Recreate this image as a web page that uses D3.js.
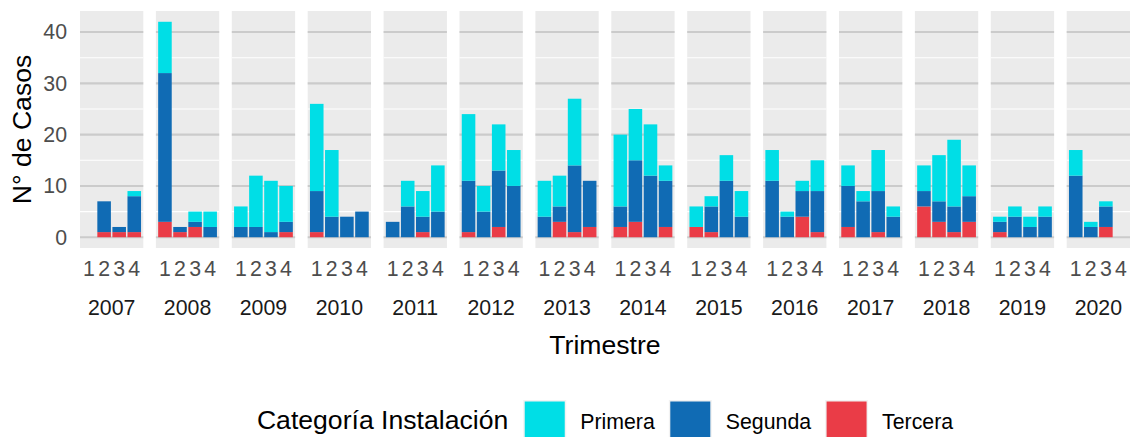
<!DOCTYPE html>
<html>
<head>
<meta charset="utf-8">
<script src="https://cdn.jsdelivr.net/npm/d3@7"></script>
<style>
  html, body { margin: 0; padding: 0; background: #ffffff; }
  svg { display: block; font-family: "Liberation Sans", Arial, Helvetica, sans-serif; }
</style>
</head>
<body>
<svg id="chart" width="1130" height="437"></svg>
<script>
// ---------------- DATA ----------------
const years = ["2007","2008","2009","2010","2011","2012","2013","2014","2015","2016","2017","2018","2019","2020"];
const quarters = ["1","2","3","4"];
const categories = ["Primera","Segunda","Tercera"];

// values per year, per quarter (Q1..Q4)
const primera = [
  [0,0,0,1],[10,0,2,3],[4,10,10,7],[17,13,0,0],[0,5,5,9],[13,5,9,7],[7,6,13,0],
  [14,10,10,3],[4,2,5,5],[6,1,2,6],[4,2,8,2],[5,9,13,6],[1,2,2,2],[5,1,1,0]
];
const segunda = [
  [0,6,1,7],[29,1,1,2],[2,2,1,2],[8,4,4,5],[3,6,3,5],[10,5,11,10],[4,3,13,9],
  [4,12,12,9],[0,5,11,4],[11,4,5,8],[8,7,8,4],[3,4,5,5],[2,4,2,4],[12,2,4,0]
];
const tercera = [
  [0,1,1,1],[3,1,2,0],[0,0,0,1],[1,0,0,0],[0,0,1,0],[1,0,2,0],[0,3,1,2],
  [2,3,0,2],[2,1,0,0],[0,0,4,1],[2,0,1,0],[6,3,1,3],[1,0,0,0],[0,0,2,0]
];
const yTicks = [0,10,20,30,40];
const yMinor = [5,15,25,35];

const colors = {"Primera":"#00DEE6","Segunda":"#106BB4","Tercera":"#EA3C47"};

// ---------------- LAYOUT ----------------
const svg = d3.select("#chart");
const panelTop = 11, panelBottom = 248;
const plotLeft = 80, plotRight = 1130;

const xYear = d3.scaleBand().domain(years).range([plotLeft, plotRight]).paddingInner(0.166).paddingOuter(0);
const xQ = d3.scaleBand().domain(quarters).range([0, xYear.bandwidth()]).paddingInner(0.1).paddingOuter(0.15);
const y = d3.scaleLinear().domain([-2.1, 44.1]).range([panelBottom, panelTop]);

// build table
const rows = [];
years.forEach((yr, i) => {
  quarters.forEach((q, j) => {
    rows.push({year: yr, q: q, Tercera: tercera[i][j], Segunda: segunda[i][j], Primera: primera[i][j]});
  });
});
const stack = d3.stack().keys(["Tercera","Segunda","Primera"]);
const series = stack(rows);

// panels
const panels = svg.append("g").selectAll("g.panel").data(years).join("g")
  .attr("class","panel")
  .attr("transform", d => `translate(${xYear(d)},0)`);

panels.append("rect")
  .attr("x",0).attr("y",panelTop)
  .attr("width", xYear.bandwidth()).attr("height", panelBottom - panelTop)
  .attr("fill","#EBEBEB");

panels.each(function() {
  const g = d3.select(this);
  g.selectAll("line.minor").data(yMinor).join("line")
    .attr("x1",0).attr("x2",xYear.bandwidth())
    .attr("y1", d => y(d)).attr("y2", d => y(d))
    .attr("stroke","#FFFFFF").attr("stroke-width",1.1);
  g.selectAll("line.major").data(yTicks).join("line")
    .attr("x1",0).attr("x2",xYear.bandwidth())
    .attr("y1", d => y(d)).attr("y2", d => y(d))
    .attr("stroke","#CBCBCB").attr("stroke-width",2.1);
});

// bars
const barG = svg.append("g");
series.forEach(s => {
  barG.append("g").attr("fill", colors[s.key])
    .selectAll("rect").data(s.filter(d => d[1] > d[0])).join("rect")
    .attr("x", d => xYear(d.data.year) + xQ(d.data.q))
    .attr("width", xQ.bandwidth())
    .attr("y", d => y(d[1]))
    .attr("height", d => y(d[0]) - y(d[1]));
});

// y axis labels
svg.append("g").selectAll("text").data(yTicks).join("text")
  .attr("x", 67).attr("y", d => y(d)).attr("dy","0.35em")
  .attr("text-anchor","end").attr("fill","#4D4D4D")
  .style("font-size","21.3px").text(d => d);

// x tick labels
panels.selectAll("text.q").data(quarters).join("text")
  .attr("class","q")
  .attr("x", d => xQ(d) + xQ.bandwidth()/2).attr("y", 276)
  .attr("text-anchor","middle").attr("fill","#4D4D4D")
  .style("font-size","21.3px").text(d => d);

// strip labels (years)
panels.append("text")
  .attr("x", xYear.bandwidth()/2).attr("y", 315)
  .attr("text-anchor","middle").attr("fill","#1A1A1A")
  .style("font-size","21.3px").text(d => d);

// axis titles
svg.append("text")
  .attr("x", (plotLeft + plotRight)/2).attr("y", 354)
  .attr("text-anchor","middle").attr("fill","#000000")
  .style("font-size","26.6px").text("Trimestre");

svg.append("text")
  .attr("transform", `translate(31,${(panelTop+panelBottom)/2}) rotate(-90)`)
  .attr("text-anchor","middle").attr("fill","#000000")
  .style("font-size","26.6px").text("N° de Casos");

// legend
const lg = svg.append("g");
const title = lg.append("text").attr("x",0).attr("y",429)
  .attr("fill","#000000").style("font-size","26.6px").text("Categoría Instalación");
let cx = title.node().getComputedTextLength() + 15;
const keySize = 43;
categories.forEach(c => {
  lg.append("rect").attr("x", cx).attr("y", 400).attr("width", keySize).attr("height", keySize).attr("fill","#F2F2F2");
  lg.append("rect").attr("x", cx+1.5).attr("y", 401.5).attr("width", keySize-3).attr("height", keySize-3).attr("fill", colors[c]);
  const t = lg.append("text").attr("x", cx + keySize + 14).attr("y", 429)
    .attr("fill","#000000").style("font-size","21.3px").text(c);
  cx += keySize + 14 + t.node().getComputedTextLength() + 14;
});
const totalW = cx - 14;
lg.attr("transform", `translate(${(plotLeft+plotRight)/2 - totalW/2},0)`);
</script>
</body>
</html>
